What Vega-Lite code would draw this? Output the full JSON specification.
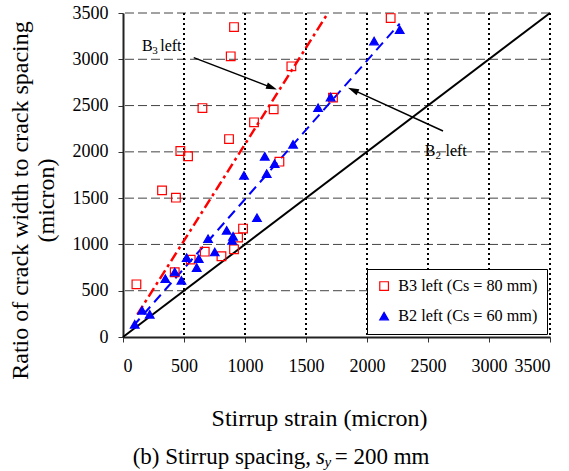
{
  "$schema": "https://vega.github.io/schema/vega-lite/v6.json",
  "width": 427,
  "height": 324,
  "autosize": {"type": "none"},
  "padding": {"left": 123, "top": 13, "right": 19, "bottom": 134},
  "background": "white",
  "config": {
    "view": {"stroke": null},
    "font": "Liberation Serif",
    "axis": {
      "labelFont": "Liberation Serif", "labelFontSize": 18, "labelColor": "black",
      "titleFont": "Liberation Serif", "titleFontSize": 24, "titleFontWeight": "normal", "titleColor": "black",
      "domainColor": "#222", "domainWidth": 2, "tickColor": "#333", "tickSize": 5, "tickWidth": 1
    },
    "legend": {
      "orient": "bottom-right", "offset": 3, "padding": 9,
      "strokeColor": "black", "strokeWidth": 1, "fillColor": "white", "cornerRadius": 0,
      "labelFont": "Liberation Serif", "labelFontSize": 16.2, "labelColor": "black",
      "rowPadding": 13, "symbolSize": 75, "symbolStrokeWidth": 1.2, "labelOffset": 6, "labelLimit": 300
    }
  },
  "datasets": {
    "gridV": [{"x": 500}, {"x": 1000}, {"x": 1500}, {"x": 2000}, {"x": 2500}, {"x": 3000}, {"x": 3500}],
    "gridH": [{"y": 500}, {"y": 1000}, {"y": 1500}, {"y": 2000}, {"y": 2500}, {"y": 3000}, {"y": 3500}],
    "points": [
      {"series": "B3 left (Cs = 80 mm)", "x": 910, "y": 3348},
      {"series": "B3 left (Cs = 80 mm)", "x": 883, "y": 3032},
      {"series": "B3 left (Cs = 80 mm)", "x": 1380, "y": 2924},
      {"series": "B3 left (Cs = 80 mm)", "x": 651, "y": 2473},
      {"series": "B3 left (Cs = 80 mm)", "x": 1235, "y": 2459},
      {"series": "B3 left (Cs = 80 mm)", "x": 1074, "y": 2319},
      {"series": "B3 left (Cs = 80 mm)", "x": 869, "y": 2138},
      {"series": "B3 left (Cs = 80 mm)", "x": 470, "y": 2009},
      {"series": "B3 left (Cs = 80 mm)", "x": 533, "y": 1952},
      {"series": "B3 left (Cs = 80 mm)", "x": 1282, "y": 1894},
      {"series": "B3 left (Cs = 80 mm)", "x": 320, "y": 1584},
      {"series": "B3 left (Cs = 80 mm)", "x": 434, "y": 1505},
      {"series": "B3 left (Cs = 80 mm)", "x": 984, "y": 1171},
      {"series": "B3 left (Cs = 80 mm)", "x": 943, "y": 1074},
      {"series": "B3 left (Cs = 80 mm)", "x": 910, "y": 947},
      {"series": "B3 left (Cs = 80 mm)", "x": 670, "y": 922},
      {"series": "B3 left (Cs = 80 mm)", "x": 807, "y": 872},
      {"series": "B3 left (Cs = 80 mm)", "x": 555, "y": 836},
      {"series": "B3 left (Cs = 80 mm)", "x": 424, "y": 700},
      {"series": "B3 left (Cs = 80 mm)", "x": 110, "y": 569},
      {"series": "B3 left (Cs = 80 mm)", "x": 2194, "y": 3445},
      {"series": "B3 left (Cs = 80 mm)", "x": 1721, "y": 2586},
      {"series": "B2 left (Cs = 60 mm)", "x": 96, "y": 137},
      {"series": "B2 left (Cs = 60 mm)", "x": 156, "y": 288},
      {"series": "B2 left (Cs = 60 mm)", "x": 219, "y": 245},
      {"series": "B2 left (Cs = 60 mm)", "x": 347, "y": 631},
      {"series": "B2 left (Cs = 60 mm)", "x": 424, "y": 702},
      {"series": "B2 left (Cs = 60 mm)", "x": 479, "y": 612},
      {"series": "B2 left (Cs = 60 mm)", "x": 604, "y": 750},
      {"series": "B2 left (Cs = 60 mm)", "x": 522, "y": 857},
      {"series": "B2 left (Cs = 60 mm)", "x": 621, "y": 847},
      {"series": "B2 left (Cs = 60 mm)", "x": 697, "y": 1062},
      {"series": "B2 left (Cs = 60 mm)", "x": 752, "y": 918},
      {"series": "B2 left (Cs = 60 mm)", "x": 850, "y": 1152},
      {"series": "B2 left (Cs = 60 mm)", "x": 902, "y": 1088},
      {"series": "B2 left (Cs = 60 mm)", "x": 894, "y": 1044},
      {"series": "B2 left (Cs = 60 mm)", "x": 1098, "y": 1289},
      {"series": "B2 left (Cs = 60 mm)", "x": 992, "y": 1746},
      {"series": "B2 left (Cs = 60 mm)", "x": 1178, "y": 1765},
      {"series": "B2 left (Cs = 60 mm)", "x": 1243, "y": 1873},
      {"series": "B2 left (Cs = 60 mm)", "x": 1162, "y": 1952},
      {"series": "B2 left (Cs = 60 mm)", "x": 1394, "y": 2081},
      {"series": "B2 left (Cs = 60 mm)", "x": 1599, "y": 2477},
      {"series": "B2 left (Cs = 60 mm)", "x": 1702, "y": 2592},
      {"series": "B2 left (Cs = 60 mm)", "x": 2058, "y": 3197},
      {"series": "B2 left (Cs = 60 mm)", "x": 2268, "y": 3320}
    ],
    "diag": [{"x": 0, "y": 0}, {"x": 3500, "y": 3500}],
    "fitB3": [{"x": 118, "y": 245}, {"x": 1680, "y": 3500}],
    "fitB2": [{"x": 82, "y": 116}, {"x": 2268, "y": 3385}],
    "arrows": [
      {"x": 580, "y": 3018, "x2": 1220, "y2": 2694},
      {"x": 2623, "y": 2225, "x2": 1885, "y2": 2669}
    ],
    "headB3": [{"x": 1220, "y": 2694}],
    "headB2": [{"x": 1885, "y": 2669}],
    "lblMain": [
      {"t": "B", "x": 156, "y": 3089},
      {"t": "left", "x": 305, "y": 3089},
      {"t": "B", "x": 2473, "y": 1955},
      {"t": "left", "x": 2643, "y": 1955}
    ],
    "lblSub": [
      {"t": "3", "x": 239, "y": 3059},
      {"t": "2", "x": 2561, "y": 1925}
    ],
    "capPlain": [
      {"t": "(b) Stirrup spacing,", "x": 79.5, "y": -1367},
      {"t": "= 200 mm", "x": 1735, "y": -1367}
    ],
    "capS": [{"t": "s", "x": 1582, "y": -1367}],
    "capY": [{"t": "y", "x": 1651, "y": -1408}]
  },
  "layer": [
    {
      "data": {"name": "gridH"},
      "mark": {"type": "rule", "color": "#444", "strokeWidth": 1, "strokeDash": [9, 4]},
      "encoding": {
        "y": {
          "field": "y", "type": "quantitative",
          "scale": {"domain": [0, 3500], "nice": false, "zero": false},
          "axis": {
            "grid": false, "labelPadding": 10, "format": "d",
            "values": [0, 500, 1000, 1500, 2000, 2500, 3000, 3500],
            "title": ["Ratio of crack width to crack spacing", "(micron)"],
            "titleX": -96, "titleY": 187, "titleBaseline": "alphabetic", "titleLineHeight": 26, "titleAngle": -90
          }
        }
      }
    },
    {
      "data": {"name": "gridV"},
      "mark": {"type": "rule", "color": "black", "strokeWidth": 2, "strokeDash": [2, 3]},
      "encoding": {
        "x": {
          "field": "x", "type": "quantitative",
          "scale": {"domain": [0, 3500], "nice": false, "zero": false},
          "axis": {
            "grid": false, "labelPadding": 15, "format": "d",
            "values": [0, 500, 1000, 1500, 2000, 2500, 3000, 3500],
            "title": "Stirrup strain (micron)",
            "titleX": 196, "titleY": 88, "titleBaseline": "alphabetic"
          }
        }
      }
    },
    {"data": {"name": "diag"}, "mark": {"type": "line", "color": "black", "strokeWidth": 2},
     "encoding": {"x": {"field": "x", "type": "quantitative"}, "y": {"field": "y", "type": "quantitative"}}},
    {"data": {"name": "fitB3"}, "mark": {"type": "line", "color": "#ff0000", "strokeWidth": 2.5, "strokeDash": [10, 4, 3, 4], "clip": true},
     "encoding": {"x": {"field": "x", "type": "quantitative"}, "y": {"field": "y", "type": "quantitative"}}},
    {"data": {"name": "fitB2"}, "mark": {"type": "line", "color": "#0000ff", "strokeWidth": 2, "strokeDash": [10, 6]},
     "encoding": {"x": {"field": "x", "type": "quantitative"}, "y": {"field": "y", "type": "quantitative"}}},
    {
      "data": {"name": "points"},
      "mark": {"type": "point", "strokeWidth": 1.2, "size": 75, "opacity": 1},
      "encoding": {
        "x": {"field": "x", "type": "quantitative"}, "y": {"field": "y", "type": "quantitative"},
        "shape": {"field": "series", "type": "nominal", "scale": {"domain": ["B3 left (Cs = 80 mm)", "B2 left (Cs = 60 mm)"], "range": ["square", "triangle-up"]}, "legend": {"title": null}},
        "stroke": {"field": "series", "type": "nominal", "scale": {"domain": ["B3 left (Cs = 80 mm)", "B2 left (Cs = 60 mm)"], "range": ["#ff0000", "#0000ff"]}, "legend": {"title": null}},
        "fill": {"field": "series", "type": "nominal", "scale": {"domain": ["B3 left (Cs = 80 mm)", "B2 left (Cs = 60 mm)"], "range": ["transparent", "#0000ff"]}, "legend": {"title": null}}
      }
    },
    {
      "data": {"name": "arrows"},
      "mark": {"type": "rule", "color": "black", "strokeWidth": 1.5},
      "encoding": {"x": {"field": "x", "type": "quantitative"}, "y": {"field": "y", "type": "quantitative"}, "x2": {"field": "x2"}, "y2": {"field": "y2"}}
    },
    {"data": {"name": "headB3"}, "mark": {"type": "point", "shape": "M0,-1L0.6,1L-0.6,1Z", "size": 121, "angle": 111, "filled": true, "color": "black", "opacity": 1},
     "encoding": {"x": {"field": "x", "type": "quantitative"}, "y": {"field": "y", "type": "quantitative"}}},
    {"data": {"name": "headB2"}, "mark": {"type": "point", "shape": "M0,-1L0.6,1L-0.6,1Z", "size": 121, "angle": 294.6, "filled": true, "color": "black", "opacity": 1},
     "encoding": {"x": {"field": "x", "type": "quantitative"}, "y": {"field": "y", "type": "quantitative"}}},
    {
      "data": {"name": "lblMain"},
      "mark": {"type": "text", "font": "Liberation Serif", "fontSize": 16, "align": "left", "baseline": "alphabetic", "color": "black"},
      "encoding": {"x": {"field": "x", "type": "quantitative"}, "y": {"field": "y", "type": "quantitative"}, "text": {"field": "t"}}
    },
    {
      "data": {"name": "lblSub"},
      "mark": {"type": "text", "font": "Liberation Serif", "fontSize": 11, "align": "left", "baseline": "alphabetic", "color": "black"},
      "encoding": {"x": {"field": "x", "type": "quantitative"}, "y": {"field": "y", "type": "quantitative"}, "text": {"field": "t"}}
    },
    {
      "data": {"name": "capPlain"},
      "mark": {"type": "text", "font": "Liberation Serif", "fontSize": 23, "align": "left", "baseline": "alphabetic", "color": "black"},
      "encoding": {"x": {"field": "x", "type": "quantitative"}, "y": {"field": "y", "type": "quantitative"}, "text": {"field": "t"}}
    },
    {
      "data": {"name": "capS"},
      "mark": {"type": "text", "font": "Liberation Serif", "fontSize": 23, "fontStyle": "italic", "align": "left", "baseline": "alphabetic", "color": "black"},
      "encoding": {"x": {"field": "x", "type": "quantitative"}, "y": {"field": "y", "type": "quantitative"}, "text": {"field": "t"}}
    },
    {
      "data": {"name": "capY"},
      "mark": {"type": "text", "font": "Liberation Serif", "fontSize": 15, "fontStyle": "italic", "align": "left", "baseline": "alphabetic", "color": "black"},
      "encoding": {"x": {"field": "x", "type": "quantitative"}, "y": {"field": "y", "type": "quantitative"}, "text": {"field": "t"}}
    }
  ]
}
